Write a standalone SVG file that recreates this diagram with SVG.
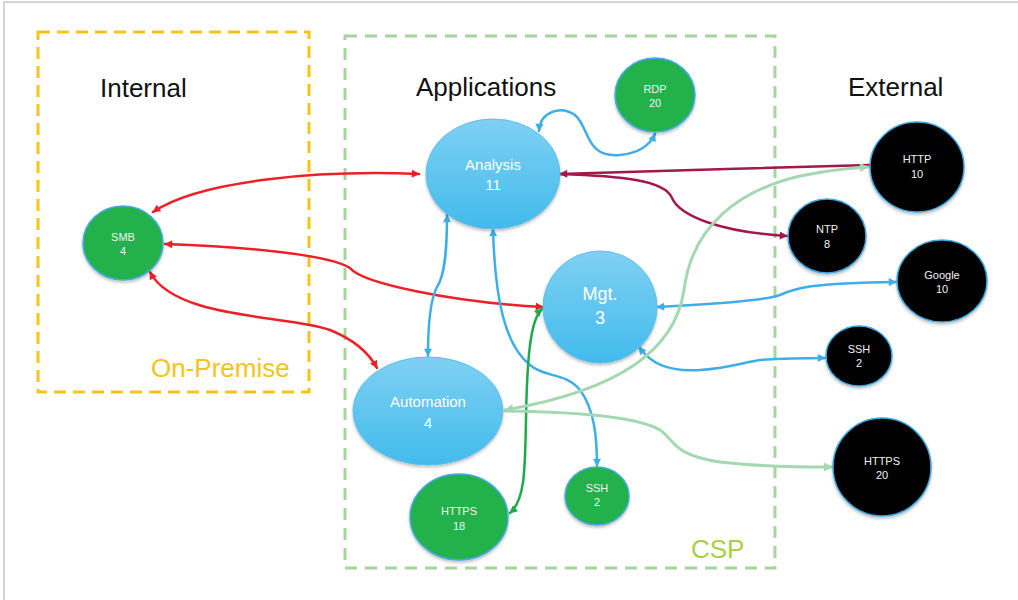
<svg xmlns="http://www.w3.org/2000/svg" width="1018" height="600" viewBox="0 0 1018 600">
  <style>
    .title { font-family: "Liberation Sans", Arial, sans-serif; font-size: 26px; fill: #111; }
    .zone { font-family: "Liberation Sans", Arial, sans-serif; font-size: 26px; }
    .small { font-family: "Liberation Sans", Arial, sans-serif; font-size: 11px; fill: #f2f2f2; text-anchor: middle; }
    .big { font-family: "Liberation Sans", Arial, sans-serif; font-size: 15px; fill: #ffffff; text-anchor: middle; }
    .green { fill: #22b14c; stroke: #45abe0; stroke-width: 1.5; filter: url(#shadow); }
    .black { fill: #000000; stroke: #3fa9e0; stroke-width: 1.5; filter: url(#shadow); }
    .blue { fill: url(#blueGrad); stroke: #5cbfea; stroke-width: 1; filter: url(#shadow); }
    .c { fill: none; stroke-linecap: round; }
    .red { stroke: #ee1f26; stroke-width: 2.5; marker-start: url(#aRed); marker-end: url(#aRed); }
    .maroon { stroke: #a3174a; stroke-width: 2.5; }
    .sky { stroke: #3eaee6; stroke-width: 2.5; marker-start: url(#aSky); marker-end: url(#aSky); }
    .dgreen { stroke: #1eaa48; stroke-width: 2.5; marker-start: url(#aGreen); marker-end: url(#aGreen); }
    .mint { stroke: #a3d8b1; stroke-width: 3; }
  </style>
  <defs>
    <linearGradient id="blueGrad" x1="0" y1="0" x2="0" y2="1">
      <stop offset="0" stop-color="#7fd0f3"/>
      <stop offset="1" stop-color="#42bbec"/>
    </linearGradient>
    <filter id="shadow" x="-20%" y="-20%" width="140%" height="150%">
      <feDropShadow dx="0" dy="2" stdDeviation="1.5" flood-color="#000" flood-opacity="0.25"/>
    </filter>
    <marker id="aRed" viewBox="0 0 10 10" refX="9" refY="5" markerWidth="10" markerHeight="8" markerUnits="userSpaceOnUse" orient="auto-start-reverse">
      <path d="M0,0 L10,5 L0,10 z" fill="#ee1f26"/>
    </marker>
    <marker id="aMaroon" viewBox="0 0 10 10" refX="9" refY="5" markerWidth="10" markerHeight="8" markerUnits="userSpaceOnUse" orient="auto-start-reverse">
      <path d="M0,0 L10,5 L0,10 z" fill="#a3174a"/>
    </marker>
    <marker id="aSky" viewBox="0 0 10 10" refX="9" refY="5" markerWidth="10" markerHeight="8" markerUnits="userSpaceOnUse" orient="auto-start-reverse">
      <path d="M0,0 L10,5 L0,10 z" fill="#3eaee6"/>
    </marker>
    <marker id="aGreen" viewBox="0 0 10 10" refX="9" refY="5" markerWidth="10" markerHeight="8" markerUnits="userSpaceOnUse" orient="auto-start-reverse">
      <path d="M0,0 L10,5 L0,10 z" fill="#1eaa48"/>
    </marker>
    <marker id="aMint" viewBox="0 0 10 10" refX="9" refY="5" markerWidth="11" markerHeight="9" markerUnits="userSpaceOnUse" orient="auto-start-reverse">
      <path d="M0,0 L10,5 L0,10 z" fill="#a3d8b1"/>
    </marker>
  </defs>

  <!-- page -->
  <rect x="0" y="0" width="1018" height="600" fill="#ffffff"/>
  <path d="M4,600 L4,2 L1018,2" fill="none" stroke="#c8c8c8" stroke-width="1.5"/>

  <!-- zones -->
  <g id="zones">
    <rect x="38" y="32" width="271" height="360" fill="none" stroke="#f8c21c" stroke-width="3" stroke-dasharray="12 7"/>
    <rect x="345" y="36" width="430" height="532" fill="none" stroke="#a6d49f" stroke-width="3" stroke-dasharray="12 8"/>
    <text class="title" x="100" y="97">Internal</text>
    <text class="title" x="416" y="96">Applications</text>
    <text class="title" x="848" y="96">External</text>
    <text class="zone" x="151" y="377" fill="#f8c21c">On-Premise</text>
    <text class="zone" x="691" y="558" fill="#a8cf45">CSP</text>
  </g>

  <!-- connectors -->
  <g id="connectors">
    <path class="c red" d="M153,212 C200,180 320,170 419,174"/>
    <path class="c red" d="M165,244 C250,247 330,255 350,268 C362,283 450,302 543,307"/>
    <path class="c red" d="M150,272 C175,320 290,315 330,330 C355,340 370,355 377,368"/>
    <path class="c maroon" d="M870,165 C780,167 640,172 560,174" marker-end="url(#aMaroon)"/>
    <path class="c maroon" d="M560,174 C620,176 665,180 672,198 C680,216 720,232 787,236" marker-end="url(#aMaroon)"/>
    <path class="c sky" d="M539,131 C540,112 560,105 575,115 C590,128 585,158 620,155 C640,153 650,145 655,134"/>
    <path class="c sky" d="M447,215 C447,250 445,275 437,287 C430,300 428,330 428,356"/>
    <path class="c sky" d="M493,229 C495,300 505,345 530,365 C545,378 565,372 580,390 C595,410 597,440 597,466"/>
    <path class="c sky" d="M657,307 C700,305 760,302 780,295 C795,288 810,283 896,282"/>
    <path class="c sky" d="M639,347 C650,362 665,372 700,370 C730,368 745,362 760,360 C790,358 800,358 825,358"/>
    <path class="c dgreen" d="M542,309 C530,320 527,360 526,420 C525,470 525,500 510,513"/>
    <path class="c mint" d="M505,410 C620,390 675,350 684,290 C692,225 740,190 800,176 C830,170 850,168 868,167" marker-start="url(#aMint)" marker-end="url(#aMint)"/>
    <path class="c mint" d="M505,411 C580,412 640,418 660,430 C675,440 672,455 720,462 C760,467 800,467 832,467" marker-end="url(#aMint)"/>
  </g>

  <!-- nodes -->
  <g id="node-smb">
    <ellipse class="green" cx="123" cy="243" rx="40" ry="37"/>
    <text class="small" x="123" y="241">SMB</text>
    <text class="small" x="123" y="255">4</text>
  </g>
  <g id="node-rdp">
    <ellipse class="green" cx="655" cy="95" rx="40" ry="37"/>
    <text class="small" x="655" y="93">RDP</text>
    <text class="small" x="655" y="107">20</text>
  </g>
  <g id="node-analysis">
    <ellipse class="blue" cx="493" cy="174" rx="67" ry="55"/>
    <text class="big" x="493" y="170">Analysis</text>
    <text class="big" x="493" y="190">11</text>
  </g>
  <g id="node-mgt">
    <ellipse class="blue" cx="600" cy="307" rx="57" ry="56"/>
    <text class="big" x="600" y="300" style="font-size:18px">Mgt.</text>
    <text class="big" x="600" y="324" style="font-size:18px">3</text>
  </g>
  <g id="node-automation">
    <ellipse class="blue" cx="428" cy="411" rx="75" ry="54"/>
    <text class="big" x="428" y="407">Automation</text>
    <text class="big" x="428" y="428">4</text>
  </g>
  <g id="node-https-18">
    <ellipse class="green" cx="459" cy="517" rx="49" ry="43"/>
    <text class="small" x="459" y="515">HTTPS</text>
    <text class="small" x="459" y="530">18</text>
  </g>
  <g id="node-ssh-internal">
    <ellipse class="green" cx="597" cy="496" rx="32" ry="29"/>
    <text class="small" x="597" y="492">SSH</text>
    <text class="small" x="597" y="506">2</text>
  </g>
  <g id="node-http">
    <ellipse class="black" cx="917" cy="167" rx="47" ry="45"/>
    <text class="small" x="917" y="163">HTTP</text>
    <text class="small" x="917" y="178">10</text>
  </g>
  <g id="node-ntp">
    <ellipse class="black" cx="827" cy="236" rx="39" ry="37"/>
    <text class="small" x="827" y="233">NTP</text>
    <text class="small" x="827" y="248">8</text>
  </g>
  <g id="node-google">
    <ellipse class="black" cx="942" cy="281" rx="45" ry="41"/>
    <text class="small" x="942" y="279">Google</text>
    <text class="small" x="942" y="293">10</text>
  </g>
  <g id="node-ssh-external">
    <ellipse class="black" cx="859" cy="356" rx="33" ry="30"/>
    <text class="small" x="859" y="353">SSH</text>
    <text class="small" x="859" y="367">2</text>
  </g>
  <g id="node-https-20">
    <ellipse class="black" cx="882" cy="467" rx="49" ry="49"/>
    <text class="small" x="882" y="465">HTTPS</text>
    <text class="small" x="882" y="479">20</text>
  </g>
</svg>
